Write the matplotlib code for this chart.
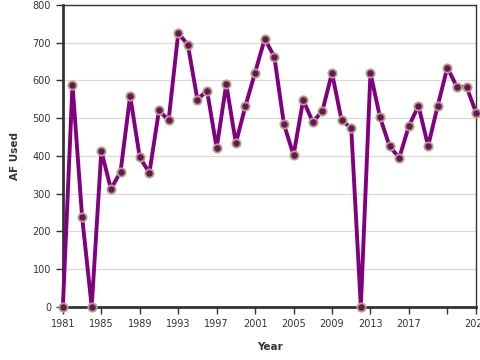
import matplotlib
matplotlib.use("Agg")
import matplotlib.pyplot as plt

years = list(range(1981, 2025))
af_used = [0, 589, 238, 0, 413, 312, 358, 559, 396, 355,
           521, 494, 725, 695, 549, 573, 421, 590, 434, 533,
           621, 710, 663, 484, 402, 548, 490, 519, 620, 494,
           474, 0, 620, 502, 425, 395, 479, 533, 426, 533,
           634, 583, 583, 514]

tick_years = [1981, 1985, 1989, 1993, 1997, 2001, 2005, 2009, 2013, 2017, 2021, 2024]
tick_labels = ['1981', '1985', '1989', '1993', '1997', '2001', '2005', '2009', '2013', '2017', '', '2024']

fig = plt.figure(figsize=(4.8, 3.6), dpi=100)
ax = fig.add_axes([0.131, 0.148, 0.861, 0.838])

ax.plot(years, af_used, color='#800080', lw=2.8, zorder=3, clip_on=False,
        marker='o', ms=6, mfc='#6a1460', mec='#b3a67f', mew=1.3)

ax.set_xlim(1981, 2024)
ax.set_ylim(0, 800)
ax.set_yticks(range(0, 801, 100))
ax.set_xticks(tick_years)
ax.set_xticklabels(tick_labels)
ax.grid(axis='y', color='#d9d9d9', lw=0.9)
ax.set_axisbelow(True)

for s in ['left', 'bottom']:
    ax.spines[s].set_linewidth(2)
    ax.spines[s].set_color('#333333')
for s in ['top', 'right']:
    ax.spines[s].set_linewidth(1)
    ax.spines[s].set_color('#333333')

ax.tick_params(labelsize=7, colors='#333333', length=5, width=1)
ax.set_xlabel('Year', fontsize=7.5, fontweight='bold', color='#333333', labelpad=10)
ax.set_ylabel('AF Used', fontsize=7.5, fontweight='bold', color='#333333', labelpad=9)

fig.savefig('out.png', dpi=100)
